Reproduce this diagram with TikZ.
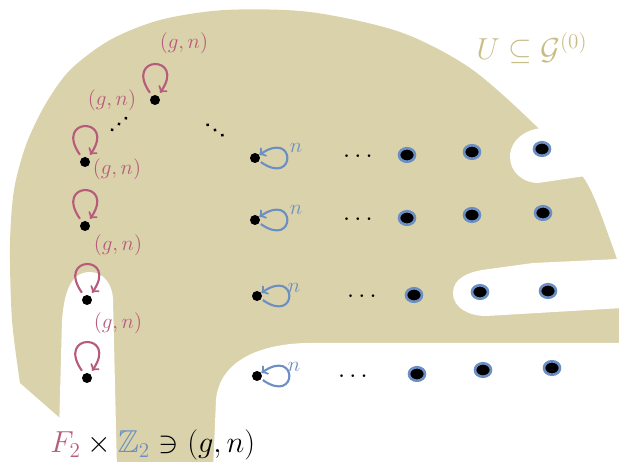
\documentclass[tikz,border=0pt]{standalone}
\usepackage{xcolor}
\usepackage{amssymb}
\usepackage{tikz}
\usetikzlibrary{shapes.geometric}
\definecolor{OrbitTan}{HTML}{DAD2AA}
\definecolor{OrbitSand}{HTML}{C8BD86}
\definecolor{OrbitRose}{HTML}{B65B7B}
\definecolor{OrbitBlue}{HTML}{6B8EC3}
\tikzset{
  blackpt/.style={circle, fill=black, inner sep=0pt, minimum size=0.2cm},
  ringpt/.style={ellipse, fill=black, draw=OrbitBlue, line width=1.5pt, inner sep=0pt, minimum width=0.32cm, minimum height=0.27cm},
  rloop/.style={OrbitRose, line width=1.2pt, ->, shorten <=2pt, shorten >=2pt},
  bloop/.style={OrbitBlue, line width=1.2pt, ->, shorten <=1pt},
  glabel/.style={text=OrbitRose, font=\fontsize{13}{15}\selectfont},
  nlabel/.style={text=OrbitBlue, font=\fontsize{13}{15}\selectfont},
  ellip/.style={font=\fontsize{15}{17}\selectfont, inner sep=0pt}
}

\begin{document}
\begin{tikzpicture}[x=0.02cm, y=0.02cm]
    \useasboundingbox (0,0) rectangle (619,-462);
    \clip (0,0) rectangle (619,-462);
    \fill[OrbitTan] (60,-470) -- (60,-418) -- plot[smooth] coordinates {(20,-383) (12,-320) (10,-245) (14,-190) (26,-145) (45,-105) (70,-70) (110,-40) (160,-20) (225,-10) (310,-12) (400,-32) (470,-68) (535,-125) (585,-180) (612,-245) (630,-300)} -- (630,-470) -- cycle;
    \fill[white] (640,-122) -- (545,-128) to[out=180,in=90] (510,-157) to[out=-90,in=180] (538,-183) -- (640,-168) -- cycle;
    \fill[white] (640,-258) -- (533,-263) -- (482,-270) to[out=190,in=90] (453,-293) to[out=-90,in=180] (486,-316) -- (640,-307) -- cycle;
    \fill[white] (640,-343) -- (310,-343) to[out=180,in=85] (216,-400) -- (213,-470) -- (640,-470) -- cycle;
    \fill[white] (58,-470) -- (62,-320) to[out=85,in=180] (90,-272) to[out=0,in=90] (113,-300) -- (117,-470) -- cycle;

    \node[text=OrbitSand, font=\fontsize{18}{20}\selectfont] (uset) at (532,-48) {$U\subseteq\mathcal{G}^{(0)}$};

    \node[blackpt] (a1) at (155,-100) {};
    \node[blackpt] (a2) at (85,-162) {};
    \node[blackpt] (a3) at (85,-226) {};
    \node[blackpt] (a4) at (87,-300) {};
    \node[blackpt] (a5) at (87,-378) {};
    \foreach \d in {a1,a2,a3,a4,a5}
        \draw[rloop] (\d) to[out=125,in=55,min distance=1cm] (\d);
    \node[glabel] (g1) at (184,-43) {$(g,n)$};
    \node[glabel] (g2) at (112,-100) {$(g,n)$};
    \node[glabel] (g3) at (117,-169) {$(g,n)$};
    \node[glabel] (g4) at (118,-245) {$(g,n)$};
    \node[glabel] (g5) at (118,-323) {$(g,n)$};
    \fill[shift={(119,-124)}, rotate=40] (-9,0) circle (1pt) (0,0) circle (1pt) (9,0) circle (1pt);
    \fill[shift={(215,-130)}, rotate=-35] (-9,0) circle (1pt) (0,0) circle (1pt) (9,0) circle (1pt);

    \node[blackpt] (b1) at (255,-158) {};
    \node[blackpt] (b2) at (255,-220) {};
    \node[blackpt] (b3) at (257,-296) {};
    \node[blackpt] (b4) at (257,-376) {};
    \foreach \d in {b1,b2,b3,b4}
        \draw[bloop] (\d) to[out=-35,in=35,min distance=0.9cm] (\d);
    \node[nlabel] (n1) at (296,-148) {$n$};
    \node[nlabel] (n2) at (296,-210) {$n$};
    \node[nlabel] (n3) at (294,-288) {$n$};
    \node[nlabel] (n4) at (294,-367) {$n$};

    \node[ellip] (e3) at (358,-157) {$\cdots$};
    \node[ellip] (e4) at (358,-220) {$\cdots$};
    \node[ellip] (e5) at (362,-297) {$\cdots$};
    \node[ellip] (e6) at (353,-377) {$\cdots$};

    \node[ringpt] (r11) at (407,-155) {};
    \node[ringpt] (r12) at (472,-152) {};
    \node[ringpt] (r13) at (542,-149) {};
    \node[ringpt] (r21) at (407,-218) {};
    \node[ringpt] (r22) at (472,-215) {};
    \node[ringpt] (r23) at (543,-213) {};
    \node[ringpt] (r31) at (414,-295) {};
    \node[ringpt] (r32) at (480,-292) {};
    \node[ringpt] (r33) at (548,-291) {};
    \node[ringpt] (r41) at (417,-374) {};
    \node[ringpt] (r42) at (483,-370) {};
    \node[ringpt] (r43) at (552,-368) {};

    \node[anchor=base west, font=\fontsize{18}{21}\selectfont, inner sep=0pt] (grp) at (50,-453) {$\textcolor{OrbitRose}{F_2}\times\textcolor{OrbitBlue}{\mathbb{Z}_2}\ni(g,n)$};
\end{tikzpicture}
\end{document}
